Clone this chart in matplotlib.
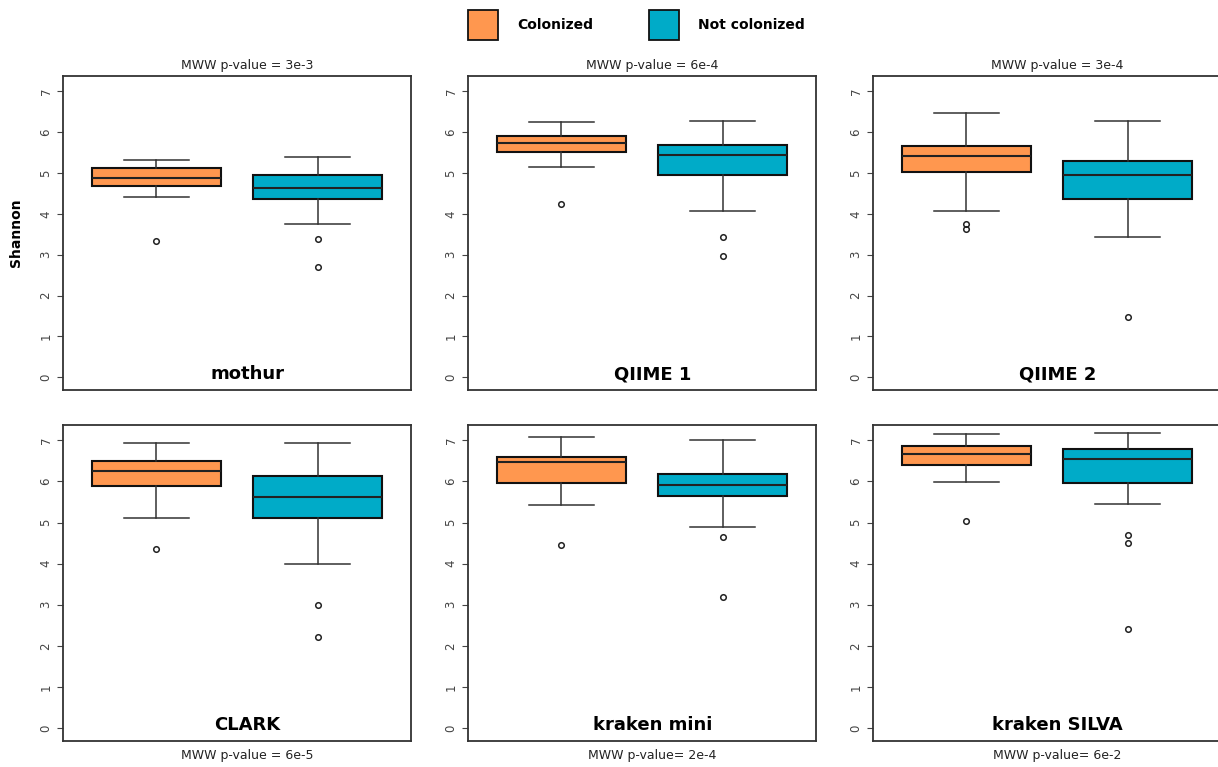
import matplotlib
matplotlib.use('Agg')
import matplotlib.pyplot as plt
from matplotlib.patches import Rectangle

tools = ['mothur', 'QIIME 1', 'QIIME 2', 'CLARK', 'kraken mini', 'kraken SILVA']
pvalues = ['MWW p-value = 3e-3', 'MWW p-value = 6e-4', 'MWW p-value = 3e-4',
           'MWW p-value = 6e-5', 'MWW p-value= 2e-4', 'MWW p-value= 6e-2']

# Colonized group (one value per tool)
col_whislo = [4.40, 5.14, 4.07, 5.11, 5.42, 5.99]
col_q1 = [4.68, 5.51, 5.01, 5.88, 5.97, 6.40]
col_med = [4.87, 5.73, 5.41, 6.25, 6.46, 6.67]
col_q3 = [5.12, 5.91, 5.65, 6.50, 6.60, 6.87]
col_whishi = [5.31, 6.25, 6.47, 6.93, 7.07, 7.15]
col_fliers = [[3.34], [4.24], [3.76, 3.62], [4.36], [4.46], [5.04]]

# Not colonized group
not_whislo = [3.74, 4.08, 3.43, 4.00, 4.89, 5.45]
not_q1 = [4.36, 4.96, 4.35, 5.12, 5.64, 5.97]
not_med = [4.62, 5.43, 4.94, 5.61, 5.90, 6.54]
not_q3 = [4.94, 5.69, 5.30, 6.12, 6.17, 6.79]
not_whishi = [5.38, 6.28, 6.28, 6.93, 7.01, 7.18]
not_fliers = [[3.39, 2.70], [3.43, 2.97], [1.48], [3.00, 2.21], [4.65, 3.19], [4.70, 4.49, 2.40]]

groups = ['Colonized', 'Not colonized']
colors = ['#FF974F', '#00ABC8']

W, H = 1218, 767
fig = plt.figure(figsize=(W / 100, H / 100), dpi=100)

# panel boxes in pixels (left, top, right, bottom)
cols_px = [(63, 411), (468, 816), (873, 1221)]
rows_px = [(76, 390), (425, 741)]

for i, tool in enumerate(tools):
    r, c = divmod(i, 3)
    x0, x1 = cols_px[c]
    y0, y1 = rows_px[r]
    ax = fig.add_axes([x0 / W, 1 - y1 / H, (x1 - x0) / W, (y1 - y0) / H])

    stats = [
        dict(med=col_med[i], q1=col_q1[i], q3=col_q3[i],
             whislo=col_whislo[i], whishi=col_whishi[i], fliers=col_fliers[i]),
        dict(med=not_med[i], q1=not_q1[i], q3=not_q3[i],
             whislo=not_whislo[i], whishi=not_whishi[i], fliers=not_fliers[i]),
    ]
    bp = ax.bxp(stats, positions=[1, 2], widths=0.8, capwidths=[0.4, 0.4],
                patch_artist=True, showfliers=True,
                boxprops=dict(linewidth=1.5, edgecolor='#111111'),
                medianprops=dict(color='#222222', linewidth=1.5),
                whiskerprops=dict(color='#333333', linewidth=1.1),
                capprops=dict(color='#333333', linewidth=1.1),
                flierprops=dict(marker='o', markersize=4, markerfacecolor='none',
                                markeredgecolor='#222222', markeredgewidth=1.1))
    for patch, col in zip(bp['boxes'], colors):
        patch.set_facecolor(col)

    ax.set_xlim(0.42, 2.58)
    ax.set_ylim(-0.31, 7.37)
    ax.set_xticks([])
    ax.set_yticks(range(8))
    ax.tick_params(axis='y', length=4.5, width=0.8, color='#444444', pad=3,
                   labelsize=8.5, labelcolor='#444444')
    for lab in ax.get_yticklabels():
        lab.set_rotation(90)
        lab.set_va('center')
    for sp in ax.spines.values():
        sp.set_color('#333333')
        sp.set_linewidth(1.3)

    # tool name inside the panel, near the bottom (x in axes, y in data)
    ax.text(0.53, 0.08, tool, transform=ax.get_yaxis_transform(), ha='center',
            va='center', fontsize=13, fontweight='bold', color='black')

    # p-value above top row, below bottom row
    if r == 0:
        ax.text(0.53, 1.012, pvalues[i], transform=ax.transAxes, ha='center',
                va='bottom', fontsize=9, color='#222222')
    else:
        ax.text(0.53, -0.025, pvalues[i], transform=ax.transAxes, ha='center',
                va='top', fontsize=9, color='#222222')

    if i == 0:
        ax.set_ylabel('Shannon', fontsize=10, fontweight='bold', labelpad=12)

# legend at the top
leg_x = [468, 649]
for gx, name, col in zip(leg_x, groups, colors):
    fig.patches.append(Rectangle((gx / W, 1 - 40 / H), 30 / W, 30 / H,
                                 transform=fig.transFigure, facecolor=col,
                                 edgecolor='#111111', linewidth=1.3))
    fig.text((gx + 49) / W, 1 - 25 / H, name, ha='left', va='center',
             fontsize=10, fontweight='bold')

fig.savefig('out.png', dpi=100)
